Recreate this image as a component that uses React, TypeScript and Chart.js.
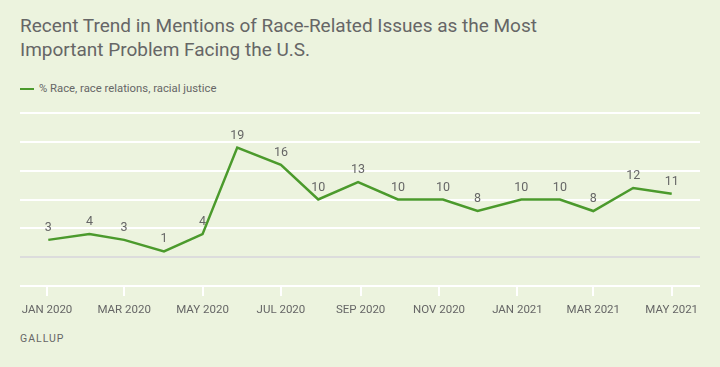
import React, { useEffect, useRef } from "react";
import { Chart, registerables } from "chart.js";

Chart.register(...registerables);

const surveyDates = [
  "2020-01-02", "2020-02-03", "2020-03-01", "2020-04-01", "2020-05-01", "2020-05-28",
  "2020-07-01", "2020-07-30", "2020-08-30", "2020-09-30", "2020-11-04", "2020-12-01",
  "2021-01-04", "2021-02-03", "2021-03-01", "2021-04-01", "2021-05-01",
];
const raceValues = [3, 4, 3, 1, 4, 19, 16, 10, 13, 10, 10, 8, 10, 10, 8, 12, 11];
const tickDates = [
  "2020-01-01", "2020-03-01", "2020-05-01", "2020-07-01", "2020-09-01",
  "2020-11-01", "2021-01-01", "2021-03-01", "2021-05-01",
];
const tickLabels = [
  "JAN 2020", "MAR 2020", "MAY 2020", "JUL 2020", "SEP 2020",
  "NOV 2020", "JAN 2021", "MAR 2021", "MAY 2021",
];
const seriesName = "% Race, race relations, racial justice";
const titleLines = [
  "Recent Trend in Mentions of Race-Related Issues as the Most",
  "Important Problem Facing the U.S.",
];

const ORIGIN = Date.UTC(2020, 0, 1);
const toDay = (s: string) => {
  const [y, m, d] = s.split("-").map(Number);
  return (Date.UTC(y, m - 1, d) - ORIGIN) / 86400000;
};

const GREEN = "#4b9a2c";
const TEXT = "#666666";
const BG = "#ecf3de";
const FONT = "Roboto, 'Noto Sans', sans-serif";

const labelPlugin = {
  id: "pointLabels",
  afterDatasetsDraw(chart: any) {
    const ctx = chart.ctx;
    const meta = chart.getDatasetMeta(0);
    ctx.save();
    ctx.fillStyle = TEXT;
    ctx.font = `12.5px ${FONT}`;
    ctx.textAlign = "center";
    ctx.textBaseline = "alphabetic";
    meta.data.forEach((pt: any, i: number) => {
      ctx.fillText(String(raceValues[i]), pt.x, pt.y - 9);
    });
    ctx.restore();
  },
};

export default function App() {
  const canvasRef = useRef<HTMLCanvasElement>(null);

  useEffect(() => {
    const tickDays = tickDates.map(toDay);
    const chart = new Chart(canvasRef.current!, {
      type: "line",
      data: {
        datasets: [
          {
            label: seriesName,
            data: surveyDates.map((d, i) => ({ x: toDay(d), y: raceValues[i] })),
            borderColor: GREEN,
            backgroundColor: GREEN,
            borderWidth: 2.5,
            pointRadius: 0,
            tension: 0,
          },
        ],
      },
      options: {
        animation: false,
        responsive: false,
        maintainAspectRatio: false,
        layout: { padding: { left: 20, right: 20, top: 13, bottom: 0 } },
        plugins: { legend: { display: false }, tooltip: { enabled: false } },
        scales: {
          x: {
            type: "linear",
            min: -21,
            max: 508,
            border: { display: false },
            grid: {
              drawOnChartArea: false,
              drawTicks: true,
              tickLength: 10,
              color: "#ffffff",
              lineWidth: 2,
            },
            afterBuildTicks: (axis: any) => {
              axis.ticks = tickDays.map((v) => ({ value: v }));
            },
            afterFit: (axis: any) => {
              axis.height = 40;
            },
            ticks: {
              autoSkip: false,
              maxRotation: 0,
              padding: 7,
              color: TEXT,
              font: { family: FONT, size: 11.5 },
              callback: (v: any) => {
                const idx = tickDays.indexOf(Number(v));
                return idx >= 0 ? tickLabels[idx] : "";
              },
            },
          },
          y: {
            min: -5,
            max: 25,
            border: { display: false },
            ticks: { display: false, stepSize: 5 },
            afterFit: (axis: any) => {
              axis.width = 0;
            },
            grid: {
              drawTicks: false,
              lineWidth: 2,
              color: (c: any) => (c.tick && c.tick.value === 0 ? "#dcdcdc" : "#ffffff"),
            },
          },
        },
      },
      plugins: [labelPlugin],
    });
    return () => chart.destroy();
  }, []);

  return (
    <div
      style={{
        position: "fixed",
        left: 0,
        top: 0,
        width: 720,
        height: 367,
        background: BG,
        fontFamily: FONT,
        color: TEXT,
        overflow: "hidden",
      }}
    >
      <div
        style={{
          position: "absolute",
          left: 20,
          top: 14,
          fontSize: 19,
          lineHeight: "24px",
          color: TEXT,
        }}
      >
        {titleLines.map((t, i) => (
          <div key={i}>{t}</div>
        ))}
      </div>
      <div
        style={{
          position: "absolute",
          left: 20,
          top: 81,
          display: "flex",
          alignItems: "center",
          fontSize: 11.3,
          lineHeight: "16px",
        }}
      >
        <span
          style={{ display: "inline-block", width: 14, height: 2.5, background: GREEN, marginRight: 5 }}
        />
        <span>{seriesName}</span>
      </div>
      <canvas
        ref={canvasRef}
        width={720}
        height={226}
        style={{ position: "absolute", left: 0, top: 100, width: 720, height: 226 }}
      />
      <div
        style={{
          position: "absolute",
          left: 20,
          top: 332,
          fontSize: 10.5,
          letterSpacing: 1,
          color: TEXT,
        }}
      >
        GALLUP
      </div>
    </div>
  );
}
